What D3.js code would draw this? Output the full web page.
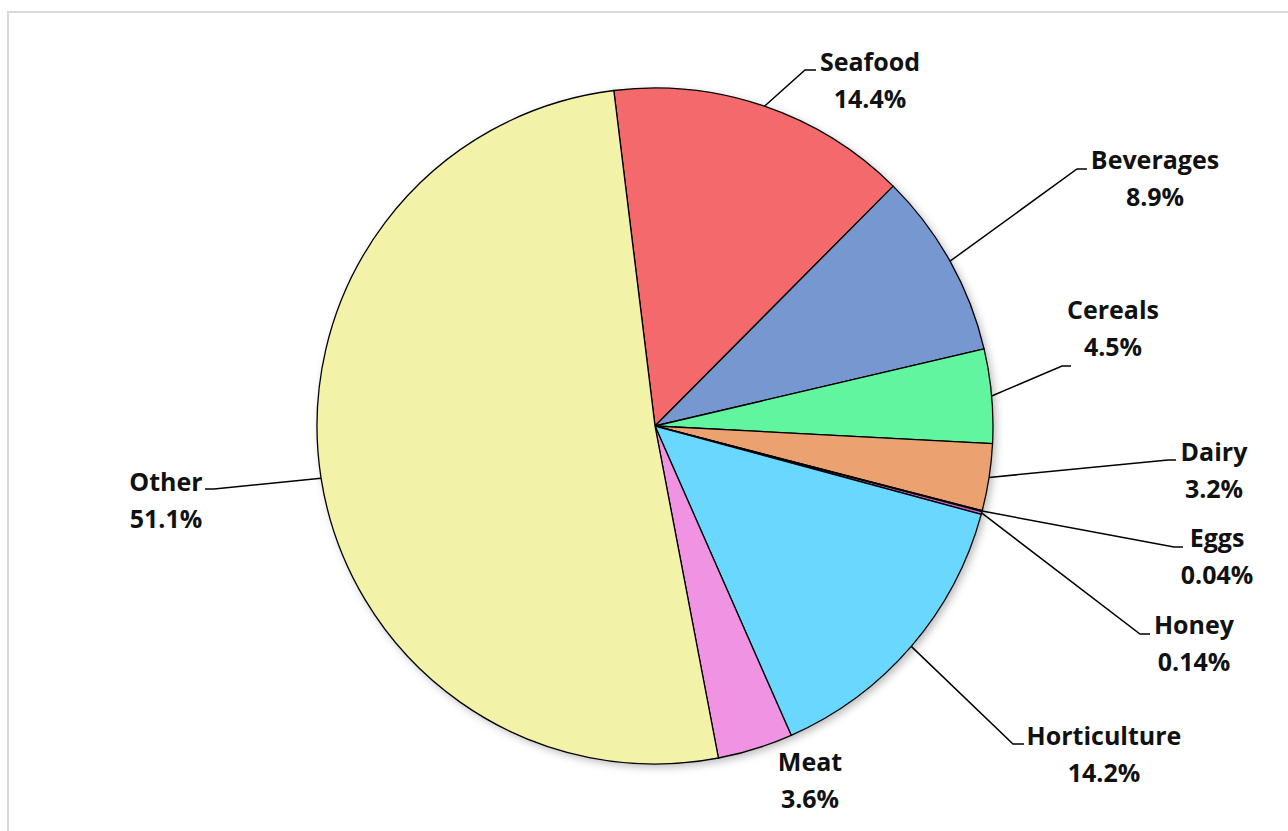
<!DOCTYPE html>
<html>
<head>
<meta charset="utf-8">
<script src="https://cdn.jsdelivr.net/npm/d3@7"></script>
<style>
  html, body { margin: 0; padding: 0; background: #ffffff; }
  svg { display: block; }
</style>
</head>
<body>
<svg id="chart" width="1288" height="831"></svg>
<script>
// Share of exports by product group (%)
const categories = ["Seafood", "Beverages", "Cereals", "Dairy", "Eggs", "Honey", "Horticulture", "Meat", "Other"];
const shares = [14.4, 8.9, 4.5, 3.2, 0.04, 0.14, 14.2, 3.6, 51.1];
const sliceColors = ["#F4696B", "#7697CF", "#62F5A0", "#EBA270", "#B86FD6", "#CC66CC", "#6AD7FE", "#F193E3", "#F2F2A8"];

// Label placement: centre of the two-line label, and the elbow / end of its leader line
const labelLayout = {
  Seafood:      { x: 870,  y: 62,  elbow: [805, 70],   end: [816, 70] },
  Beverages:    { x: 1155, y: 160, elbow: [1077, 169], end: [1087, 169] },
  Cereals:      { x: 1113, y: 310, elbow: [1062, 366], end: [1071, 366] },
  Dairy:        { x: 1214, y: 452, elbow: [1168, 460], end: [1176, 460] },
  Eggs:         { x: 1217, y: 538, elbow: [1174, 547], end: [1183, 547] },
  Honey:        { x: 1194, y: 625, elbow: [1140, 634], end: [1150, 634] },
  Horticulture: { x: 1104, y: 736, elbow: [1013, 744], end: [1024, 744] },
  Meat:         { x: 810,  y: 762, elbow: null,        end: null },
  Other:        { x: 166,  y: 482, elbow: [214, 489],  end: [205, 489] }
};

const svg = d3.select("#chart");
const cx = 655, cy = 426, radius = 338;
const lineGap = 37;

// Chart area frame
svg.append("rect")
  .attr("x", 8).attr("y", 12)
  .attr("width", 1300).attr("height", 840)
  .attr("fill", "#ffffff")
  .attr("stroke", "#d9d9d9")
  .attr("stroke-width", 2);

const defs = svg.append("defs");
const shadow = defs.append("filter").attr("id", "pieShadow")
  .attr("x", "-10%").attr("y", "-10%").attr("width", "120%").attr("height", "120%");
shadow.append("feDropShadow")
  .attr("dx", 3).attr("dy", 3).attr("stdDeviation", 4)
  .attr("flood-color", "#000").attr("flood-opacity", 0.28);

const data = categories.map((c, i) => ({ name: c, value: shares[i], color: sliceColors[i] }));

const start = -7 * Math.PI / 180;
const pie = d3.pie().sort(null).value(d => d.value)
  .startAngle(start).endAngle(start + 2 * Math.PI);
const arcs = pie(data);
const arc = d3.arc().innerRadius(0).outerRadius(radius);

const g = svg.append("g").attr("transform", `translate(${cx},${cy})`);

g.append("circle").attr("r", radius).attr("fill", "#ffffff")
  .attr("filter", "url(#pieShadow)");

g.selectAll("path.slice")
  .data(arcs)
  .join("path")
  .attr("class", "slice")
  .attr("d", arc)
  .attr("fill", d => d.data.color)
  .attr("stroke", "#000")
  .attr("stroke-width", 1.3)
  .attr("stroke-linejoin", "round");

// Leader lines from the slice's mid-angle on the rim
arcs.forEach(a => {
  const L = labelLayout[a.data.name];
  if (!L.elbow) return;
  const mid = (a.startAngle + a.endAngle) / 2;
  const sx = cx + radius * Math.sin(mid);
  const sy = cy - radius * Math.cos(mid);
  svg.append("polyline")
    .attr("points", [[sx, sy], L.elbow, L.end].map(p => p.join(",")).join(" "))
    .attr("fill", "none")
    .attr("stroke", "#000")
    .attr("stroke-width", 1.5);
});

// Category and value labels
const labels = svg.append("g")
  .attr("font-family", "'Open Sans', 'Liberation Sans', sans-serif")
  .attr("font-weight", 700)
  .attr("font-size", 25)
  .attr("fill", "#111")
  .attr("text-anchor", "middle");

arcs.forEach(a => {
  const L = labelLayout[a.data.name];
  labels.append("text")
    .attr("x", L.x).attr("y", L.y)
    .attr("dy", "0.35em")
    .text(a.data.name);
  labels.append("text")
    .attr("x", L.x).attr("y", L.y + lineGap)
    .attr("dy", "0.35em")
    .text(String(a.data.value) + "%");
});
</script>
</body>
</html>
